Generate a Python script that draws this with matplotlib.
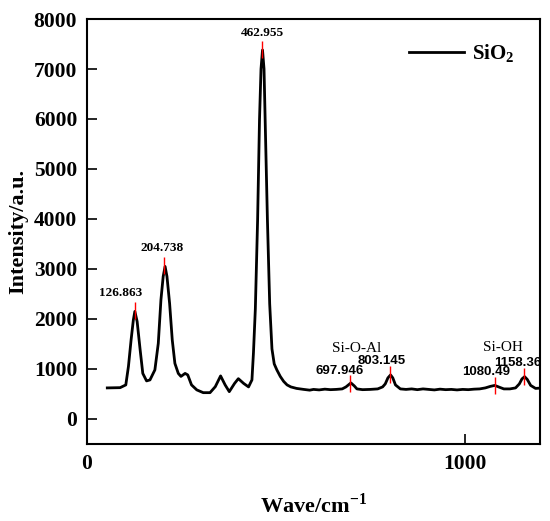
import matplotlib
matplotlib.use("Agg")
import matplotlib.pyplot as plt

# Raman spectrum of SiO2
wave = [54, 88, 103, 110, 117, 123, 127, 133, 141, 148, 158, 167, 180, 189,
        196, 202, 207, 212, 219, 226, 233, 242, 249, 260, 267, 277, 291, 308,
        326, 340, 354, 366, 377, 391, 401, 415, 428, 437, 441, 446, 452, 457,
        461, 465, 469, 472, 478, 484, 490, 496, 503, 512, 521, 530, 540, 555,
        574, 590, 600, 615, 630, 645, 660, 676, 686, 699, 708, 715, 730, 750,
        770, 783, 790, 797, 804, 810, 817, 830, 845, 860, 875, 890, 905, 920,
        935, 950, 965, 980, 995, 1010, 1025, 1040, 1055, 1068, 1080, 1090,
        1104, 1120, 1135, 1145, 1152, 1159, 1166, 1175, 1188, 1198]
intensity = [620, 625, 680, 1050, 1580, 1980, 2150, 1950, 1380, 910, 760,
             780, 980, 1510, 2380, 2850, 3050, 2850, 2310, 1580, 1110, 910,
             850, 910, 880, 680, 580, 525, 525, 645, 860, 680, 545, 710, 805,
             710, 640, 780, 1320, 2200, 3980, 5980, 7000, 7380, 7000, 5980,
             3980, 2300, 1400, 1100, 980, 850, 750, 680, 640, 610, 590, 575,
             590, 580, 595, 585, 590, 600, 640, 720, 660, 600, 585, 590, 600,
             640, 700, 820, 880, 820, 680, 600, 590, 600, 585, 600, 590, 580,
             595, 585, 590, 580, 590, 585, 595, 600, 620, 650, 670, 640, 600,
             600, 620, 700, 800, 845, 790, 670, 610, 615]

# marked peaks
peak_pos = [126.863, 204.738, 462.955, 697.946, 803.145, 1080.49, 1158.36]
peak_val = [2150, 3050, 7380, 700, 880, 660, 840]
peak_labels = ["126.863", "204.738", "462.955", "697.946", "803.145",
               "1080.49", "1158.36"]
label_x = [89, 198, 464, 669, 780, 1057, 1140]
label_y = [2510, 3420, 7720, 950, 1150, 930, 1110]
label_serif = [True, True, True, False, False, False, False]

band_labels = ["Si-O-Al", "Si-OH"]
band_x = [715, 1102]
band_y = [1410, 1430]

plt.rcParams['font.family'] = 'Liberation Serif'
plt.rcParams['font.weight'] = 'bold'
plt.rcParams['mathtext.fontset'] = 'custom'
plt.rcParams['mathtext.rm'] = 'Liberation Serif:bold'
plt.rcParams['mathtext.bf'] = 'Liberation Serif:bold'

fig = plt.figure(figsize=(5.5, 5.21), dpi=100)
ax = fig.add_axes([0.158, 0.148, 0.824, 0.8155])

ax.plot(wave, intensity, color='black', lw=2.0, label=r"$\mathbf{SiO_2}$")

for x, y in zip(peak_pos, peak_val):
    ax.vlines(x, y - 160, y + 180, color='red', lw=1.0)

for txt, x, y, serif in zip(peak_labels, label_x, label_y, label_serif):
    if serif:
        ax.text(x, y, txt, ha='center', va='center', fontsize=9.5,
                family='Liberation Serif', weight='bold')
    else:
        ax.text(x, y, txt, ha='center', va='center', fontsize=9.5,
                family='Liberation Sans', weight='bold')

for txt, x, y in zip(band_labels, band_x, band_y):
    ax.text(x, y, txt, ha='center', va='center', fontsize=11,
            family='Liberation Serif', weight='normal')

ax.set_xlim(0, 1200)
ax.set_ylim(-500, 8000)
ax.set_xticks([0, 1000])
ax.set_yticks(range(0, 8001, 1000))
ax.tick_params(direction='in', length=7, width=1.2, labelsize=15.5, pad=7)
for sp in ax.spines.values():
    sp.set_linewidth(1.5)

ax.set_xlabel(r"Wave/cm$^{\mathbf{-1}}$", fontsize=16, fontweight='bold',
              labelpad=14)
ax.set_ylabel("Intensity/a.u.", fontsize=16, fontweight='bold', labelpad=4)

ax.legend(loc='upper right', frameon=False, fontsize=15, handlelength=2.6,
          handletextpad=0.4, bbox_to_anchor=(0.985, 0.99))

fig.savefig("out.png", dpi=100)
